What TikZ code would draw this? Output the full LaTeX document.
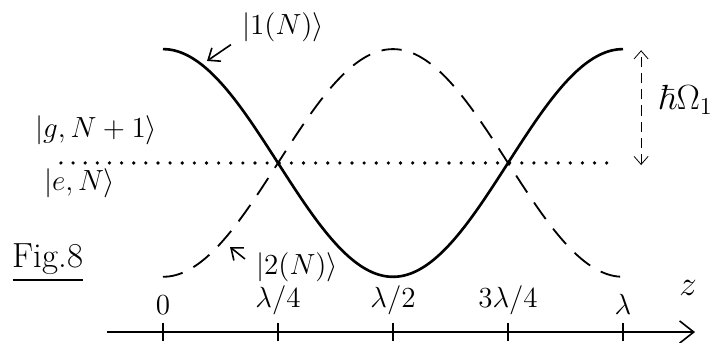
\documentclass[tikz,border=0pt]{standalone}
\usepackage{amsmath, amssymb}
\usetikzlibrary{arrows.meta, positioning}

\begin{document}
\begin{tikzpicture}[scale=2,
    pointer/.style={-{Straight Barb[length=5pt, width=8pt]}, thick},
    estado/.style={font=\Large},
    marca/.style={font=\Large, anchor=south},
    rayas/.style={line width=0.9pt, dash pattern=on 10pt off 6pt},
    puntos/.style={line width=1.8pt, line cap=round, dash pattern=on 0pt off 6pt}]
    \useasboundingbox (-1.417,-0.087) rectangle (4.817,2.887);

    % Eje z
    \coordinate (ini) at (-0.487,0);
    \coordinate (fin) at (4.626,0);
    \draw[-{Straight Barb[length=7pt, width=11pt]}, thick] (ini) -- (fin);
    \node[font=\LARGE] (zlab) at (4.565,0.38) {$z$};
    \foreach \x/\lab in {0/{0}, 1/{\lambda/4}, 2/{\lambda/2}, 3/{3\lambda/4}, 4/{\lambda}} {
        \draw[thick] (\x,0.08) -- (\x,-0.08);
        \node[marca] (t\x) at (\x,0.09) {$\lab$};
    }

    % Curvas de los estados vestidos
    \draw[line width=1.3pt, domain=0:4, samples=80, smooth] plot (\x, {1.47+0.99*cos(90*\x)});
    \draw[rayas, domain=0:4, samples=80, smooth] plot (\x, {1.47-0.99*cos(90*\x)});

    % Niveles degenerados
    \draw[puntos] (-0.887,1.47) -- (3.87,1.47);
    \node[estado, anchor=west] (g) at (-1.174,1.757) {$|g,N+1\rangle$};
    \node[estado, anchor=west] (e) at (-1.096,1.296) {$|e,N\rangle$};

    % Separacion
    \coordinate (sup1) at (4.157,2.45);
    \coordinate (inf1) at (4.157,1.452);
    \draw[{Straight Barb[length=4pt, width=7pt]}-{Straight Barb[length=4pt, width=7pt]}, dash pattern=on 5pt off 3pt] (inf1) -- (sup1);
    \node[font=\LARGE, anchor=west] (om) at (4.24,2.02) {$\hbar\Omega_1$};

    % Etiquetas
    \node[estado] (uno) at (1.043,2.652) {$|1(N)\rangle$};
    \node[estado] (dos) at (1.165,0.565) {$|2(N)\rangle$};
    \coordinate (c1) at (0.383,2.357);
    \coordinate (c2) at (0.583,0.739);
    \draw[pointer] ([shift={(-1pt,1pt)}]uno.south west) -- (c1);
    \draw[pointer] ([shift={(-1pt,2pt)}]dos.west) -- (c2);
    \node[font=\LARGE] (fig) at (-1.0,0.6) {\underline{Fig.8}};
\end{tikzpicture}
\end{document}
